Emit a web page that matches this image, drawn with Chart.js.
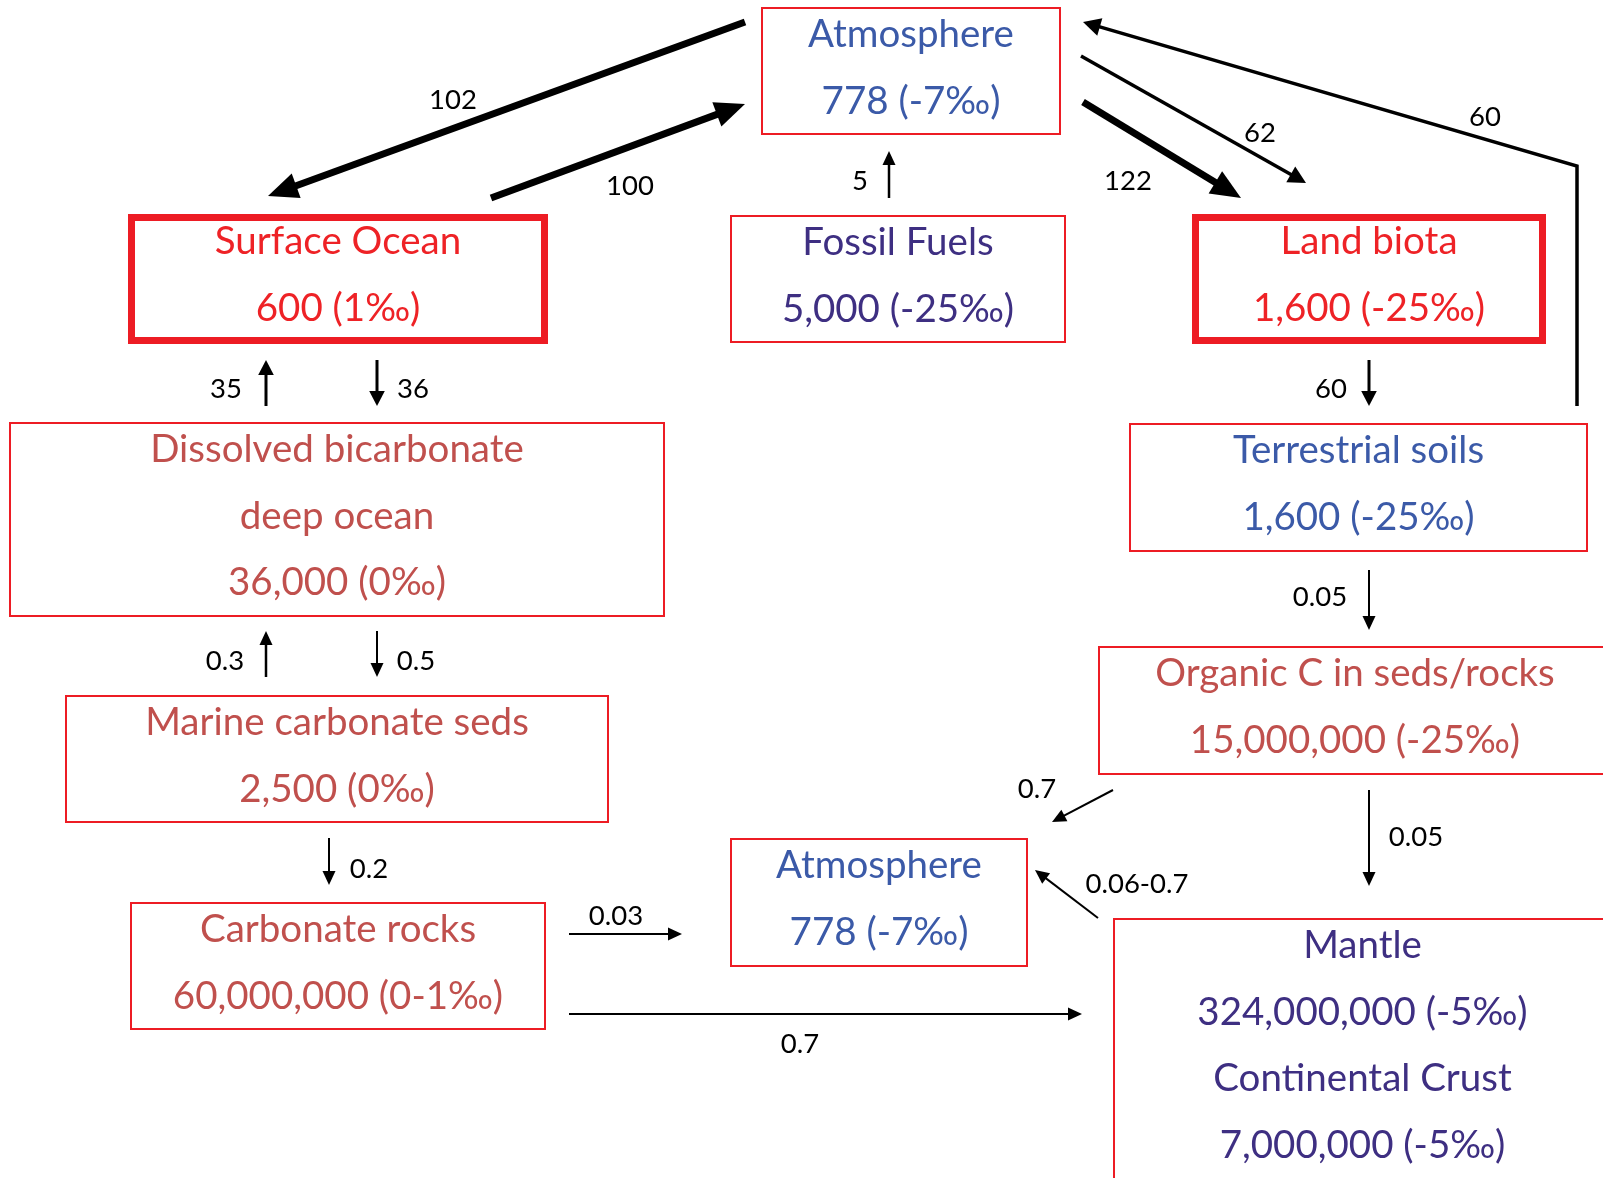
<!DOCTYPE html>
<html>
<head>
<meta charset="utf-8">
<script src="https://cdn.jsdelivr.net/npm/chart.js@4"></script>
<style>
  html, body { margin: 0; padding: 0; background: #fff; }
  #wrap { width: 1603px; height: 1178px; position: relative; }
</style>
</head>
<body>
<div id="wrap"><canvas id="chart"></canvas></div>
<script>
// reservoirs (Gt C) and their d13C
const reservoirNames = [
  ['Atmosphere'], ['Surface Ocean'], ['Fossil Fuels'], ['Land biota'],
  ['Dissolved bicarbonate', 'deep ocean'], ['Terrestrial soils'],
  ['Organic C in seds/rocks'], ['Marine carbonate seds'], ['Carbonate rocks'],
  ['Atmosphere'], ['Mantle', 'Continental Crust']
];
const reservoirSizes = [
  [778], [600], [5000], [1600], [36000], [1600],
  [15000000], [2500], [60000000], [778], [324000000, 7000000]
];
const reservoirDeltas = [
  ['-7‰'], ['1‰'], ['-25‰'], ['-25‰'], ['0‰'], ['-25‰'],
  ['-25‰'], ['0‰'], ['0-1‰'], ['-7‰'], ['-5‰', '-5‰']
];

// fluxes (Gt C / yr): from reservoir index -> to reservoir index
const fluxFrom = [0, 1, 2, 0, 0, 5, 4, 1, 3, 5, 7, 4, 7, 8, 8, 6, 6, 10];
const fluxTo   = [1, 0, 0, 3, 3, 0, 1, 4, 5, 6, 4, 7, 8, 9, 10, 9, 10, 9];
const fluxLabels = ['102', '100', '5', '122', '62', '60', '35', '36', '60',
  '0.05', '0.3', '0.5', '0.2', '0.03', '0.7', '0.7', '0.05', '0.06-0.7'];

// layout, in canvas units (x0, y0, x1, y1)
const boxRects = [
  [761, 7, 1061, 135], [128, 214, 548, 344], [730, 215, 1066, 343],
  [1192, 214, 1546, 344], [9, 422, 665, 617], [1129, 423, 1588, 552],
  [1098, 646, 1612, 775], [65, 695, 609, 823], [130, 902, 546, 1030],
  [730, 838, 1028, 967], [1113, 918, 1612, 1200]
];
const heavyBoxes = [1, 3];
const boxTextColors = ['#3b5aa8', '#ee2226', '#3e2f82', '#ee2226', '#c0504d',
  '#3b5aa8', '#c0504d', '#c0504d', '#c0504d', '#3b5aa8', '#3e2f82'];

// arrow paths, label anchor and line weight, same order as fluxLabels
const fluxPaths = [
  [[745, 22], [268, 196]],
  [[491, 198], [745, 104]],
  [[889, 198], [889, 151]],
  [[1083, 102], [1241, 198]],
  [[1081, 56], [1306, 183]],
  [[1577, 406], [1577, 166], [1083, 22]],
  [[266, 406], [266, 360]],
  [[377, 360], [377, 406]],
  [[1369, 360], [1369, 406]],
  [[1369, 570], [1369, 630]],
  [[266, 677], [266, 631]],
  [[377, 631], [377, 677]],
  [[329, 838], [329, 885]],
  [[569, 934], [682, 934]],
  [[569, 1014], [1082, 1014]],
  [[1113, 790], [1052, 822]],
  [[1369, 790], [1369, 886]],
  [[1098, 918], [1035, 870]]
];
const fluxLabelPos = [
  [453, 100], [630, 186], [860, 181], [1128, 181], [1260, 133], [1485, 117],
  [226, 389], [413, 389], [1331, 389], [1320, 597], [225, 661], [416, 661],
  [369, 869], [616, 916], [800, 1044], [1037, 789], [1416, 837], [1137, 884]
];
const fluxWeights = [7, 7, 2.5, 7, 3.5, 3.5, 3, 3, 3, 2, 2.5, 2, 2, 2, 2, 2, 2, 2];

const boxFont = '38.5px Lato';
const labelFont = '27.5px Lato';

function fmt(n) {
  return n.toLocaleString('en-US');
}

function boxLines(i) {
  const lines = [];
  if (reservoirNames[i].length > reservoirSizes[i].length) {
    reservoirNames[i].forEach(n => lines.push(n));
    lines.push(fmt(reservoirSizes[i][0]) + ' (' + reservoirDeltas[i][0] + ')');
  } else {
    reservoirNames[i].forEach((n, k) => {
      lines.push(n);
      lines.push(fmt(reservoirSizes[i][k]) + ' (' + reservoirDeltas[i][k] + ')');
    });
  }
  return lines;
}

function drawArrow(ctx, pts, w) {
  const head = w >= 6 ? 30 : Math.max(14, w * 5);
  const half = w >= 6 ? 13 : Math.max(6.5, w * 2.6);
  const n = pts.length;
  const [ax, ay] = pts[n - 2];
  const [bx, by] = pts[n - 1];
  const ang = Math.atan2(by - ay, bx - ax);
  const cx = bx - Math.cos(ang) * head * 0.9;
  const cy = by - Math.sin(ang) * head * 0.9;

  ctx.strokeStyle = '#000';
  ctx.lineWidth = w;
  ctx.lineJoin = 'miter';
  ctx.beginPath();
  ctx.moveTo(pts[0][0], pts[0][1]);
  for (let k = 1; k < n - 1; k++) ctx.lineTo(pts[k][0], pts[k][1]);
  ctx.lineTo(cx, cy);
  ctx.stroke();

  const px = bx - Math.cos(ang) * head;
  const py = by - Math.sin(ang) * head;
  ctx.fillStyle = '#000';
  ctx.beginPath();
  ctx.moveTo(bx, by);
  ctx.lineTo(px + Math.sin(ang) * half, py - Math.cos(ang) * half);
  ctx.lineTo(px - Math.sin(ang) * half, py + Math.cos(ang) * half);
  ctx.closePath();
  ctx.fill();
}

const diagramPlugin = {
  id: 'carbonDiagram',
  afterDatasetsDraw(chart) {
    const ctx = chart.ctx;
    const xs = chart.scales.x;
    const ys = chart.scales.y;
    const X = v => xs.getPixelForValue(v);
    const Y = v => ys.getPixelForValue(v);
    ctx.save();

    // reservoirs
    boxRects.forEach((r, i) => {
      const heavy = heavyBoxes.includes(i);
      const lw = heavy ? 7 : 2;
      ctx.strokeStyle = '#ed1c24';
      ctx.lineWidth = lw;
      const x0 = X(r[0]) + lw / 2, y0 = Y(r[1]) + lw / 2;
      const x1 = X(r[2]) - lw / 2, y1 = Y(r[3]) - lw / 2;
      ctx.strokeRect(x0, y0, x1 - x0, y1 - y0);

      ctx.fillStyle = boxTextColors[i];
      ctx.font = boxFont;
      ctx.textAlign = 'center';
      ctx.textBaseline = 'middle';
      const cx = X((r[0] + r[2]) / 2);
      boxLines(i).forEach((t, k) => {
        ctx.fillText(t, cx, Y(r[1] + 28 + k * 66.5));
      });
    });

    // fluxes
    fluxPaths.forEach((p, i) => {
      drawArrow(ctx, p.map(q => [X(q[0]), Y(q[1])]), fluxWeights[i]);
      ctx.fillStyle = '#000';
      ctx.font = labelFont;
      ctx.textAlign = 'center';
      ctx.textBaseline = 'middle';
      ctx.fillText(fluxLabels[i], X(fluxLabelPos[i][0]), Y(fluxLabelPos[i][1]));
    });

    ctx.restore();
  }
};

const anchors = boxRects.map(r => ({ x: (r[0] + r[2]) / 2, y: (r[1] + r[3]) / 2 }));

new Chart(document.getElementById('chart').getContext('2d'), {
  type: 'scatter',
  data: {
    datasets: [{
      label: 'reservoirs',
      data: anchors,
      pointRadius: 0
    }]
  },
  options: {
    responsive: true,
    maintainAspectRatio: false,
    animation: false,
    layout: { padding: 0 },
    plugins: { legend: { display: false }, tooltip: { enabled: false } },
    scales: {
      x: { type: 'linear', min: 0, max: 1603, display: false },
      y: { type: 'linear', min: 0, max: 1178, reverse: true, display: false }
    }
  },
  plugins: [diagramPlugin]
});
</script>
</body>
</html>
